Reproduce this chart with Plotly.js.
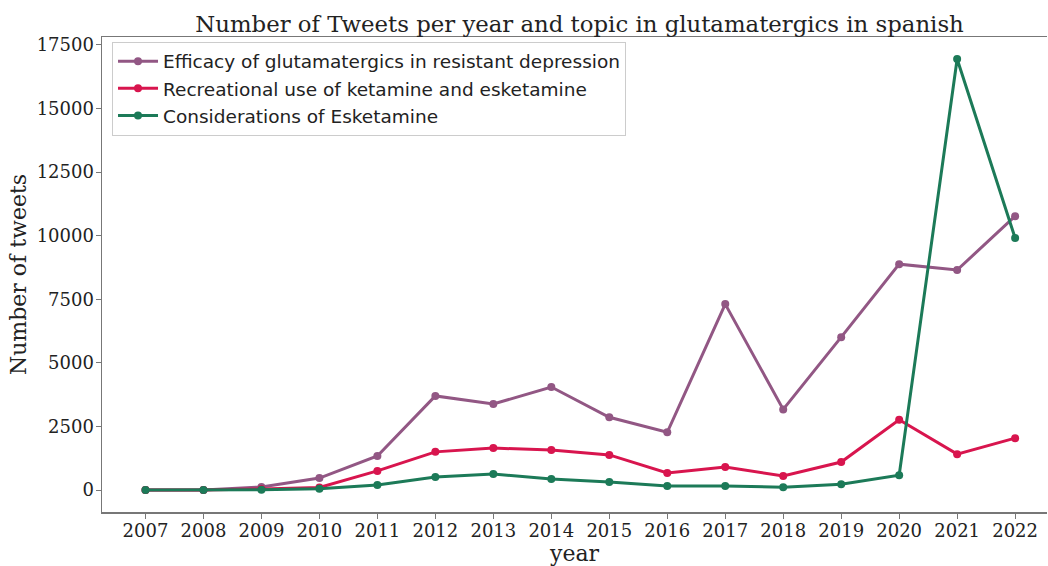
<!DOCTYPE html>
<html>
<head>
<meta charset="utf-8">
<script src="https://cdn.plot.ly/plotly-3.0.1.min.js"></script>
<style>html,body{margin:0;padding:0;background:#fff;}#chart{width:1048px;height:566px;}</style>
</head>
<body>
<div id="chart"></div>
<script>
const years = [2007,2008,2009,2010,2011,2012,2013,2014,2015,2016,2017,2018,2019,2020,2021,2022];
const seriesNames = [
  "Efficacy of glutamatergics in resistant depression",
  "Recreational use of ketamine and esketamine",
  "Considerations of Esketamine"
];
const efficacy = [0,0,120,470,1340,3700,3380,4050,2860,2270,7310,3170,6010,8880,8650,10770];
const recreational = [0,0,40,100,750,1500,1650,1570,1380,670,900,550,1100,2760,1410,2040];
const considerations = [0,0,10,50,200,510,630,430,310,160,160,110,230,580,16950,9910];
const yTicks = [0,2500,5000,7500,10000,12500,15000,17500];
const yTickText = ["0","2500","5000","7500","10000","12500","15000","17500"];
const colors = ["#925784","#d8154e","#1c7a58"];

const serif = "DejaVu Serif, serif";
const sans = "DejaVu Sans, sans-serif";
const allSeries = [efficacy, recreational, considerations];
const traces = allSeries.map((s,i)=>({
  x: years, y: s, name: seriesNames[i], type: "scatter", mode: "lines+markers",
  line: {color: colors[i], width: 3},
  marker: {color: colors[i], size: 8}
}));

const layout = {
  width: 1048, height: 566,
  margin: {l: 102, r: 1, t: 37, b: 54},
  paper_bgcolor: "#fff", plot_bgcolor: "#fff",
  title: {text: "Number of Tweets per year and topic in glutamatergics in spanish",
          font: {family: serif, size: 22.8, color: "#222"}, x: 0.553, xanchor: "center", y: 0.958, yanchor: "middle"},
  xaxis: {
    range: [2006.25, 2022.55], tickmode: "array", tickvals: years, ticktext: years.map(String),
    showgrid: false, zeroline: false, showline: true, linecolor: "#777", linewidth: 1.5, mirror: true,
    ticks: "outside", ticklen: 5, tickcolor: "#777", ticklabelstandoff: -3,
    tickfont: {family: serif, size: 18, color: "#222"},
    title: {text: "year", font: {family: serif, size: 22, color: "#222"}, standoff: 0}
  },
  yaxis: {
    range: [-865, 17814], tickmode: "array", tickvals: yTicks, ticktext: yTickText,
    showgrid: false, zeroline: false, showline: true, linecolor: "#777", linewidth: 1.5,
    ticks: "outside", ticklen: 5, tickcolor: "#777", ticklabelstandoff: -2,
    tickfont: {family: serif, size: 18, color: "#222"},
    title: {text: "Number of tweets", font: {family: serif, size: 22, color: "#222"}, standoff: 4}
  },
  legend: {
    x: 0.0106, y: 0.99, xanchor: "left", yanchor: "top",
    bgcolor: "rgba(255,255,255,0.9)", bordercolor: "#ccc", borderwidth: 1,
    font: {family: sans, size: 18.5, color: "#222"}, tracegroupgap: 0, itemwidth: 40
  },
  showlegend: true
};
Plotly.newPlot("chart", traces, layout, {displayModeBar: false, staticPlot: true});
</script>
</body>
</html>
